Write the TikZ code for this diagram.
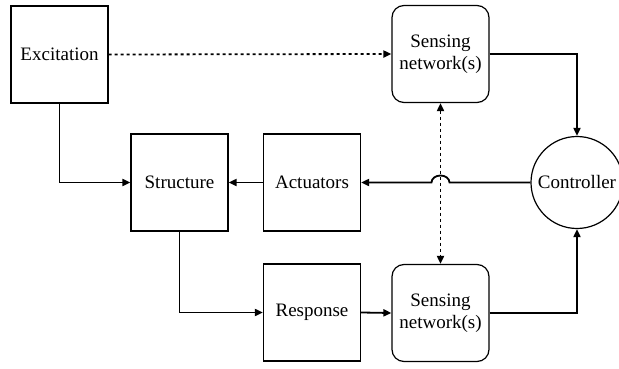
\documentclass[tikz,border=0pt]{standalone}
\usepackage{fontspec}
\setmainfont{Liberation Serif}
\usetikzlibrary{arrows.meta,calc}

\begin{document}
\begin{tikzpicture}[x=1pt,y=-1pt,
    line width=1.8pt,
    font=\fontsize{19}{22}\selectfont,
    >={Triangle[length=8pt,width=7pt]},
    block/.style={draw,line width=1.2pt,minimum width=97pt,minimum height=97pt,align=center},
    sensebox/.style={block,rounded corners=12pt},
    ctrlcircle/.style={draw,line width=1.2pt,circle,minimum size=92pt,inner sep=0pt},
    dots/.style={dash pattern=on 3pt off 3pt}]
    \useasboundingbox (0,0) rectangle (619,369);

    % Draw Blocks
    \node[block] (exc) at (59.5,54.5) {Excitation};
    \node[sensebox] (sensTop) at (440.5,54) {Sensing\\network(s)};
    \node[block] (struct) at (179.5,182.5) {Structure};
    \node[block] (act) at (312,182.5) {Actuators};
    \node[ctrlcircle] (ctrl) at (577,182.5) {Controller};
    \node[block] (resp) at (312,312.5) {Response};
    \node[sensebox] (sensBot) at (440.5,313) {Sensing\\network(s)};

    % Dotted Links
    \draw[->,dots] (exc.east) -- (sensTop.west);
    \draw[<->,dots] (sensTop.south) -- (sensBot.north);

    % Signal Path
    \draw[->] (exc.south) |- (struct.west);
    \draw[->] (act.west) -- (struct.east);
    \draw[->] (struct.south) |- (resp.west);
    \draw[->] (resp.east) -- (sensBot.west);
    \draw[->] (sensTop.east) -| (ctrl.north);
    \draw[->] (sensBot.east) -| (ctrl.south);

    % -- controller to actuators, jumping the dotted line
    \coordinate (jump) at (sensTop.south |- ctrl.west);
    \draw[->] (ctrl.west) -- ($(jump)+(9,0)$)
        arc[start angle=0,end angle=180,x radius=9pt,y radius=7pt]
        -- (act.east);
\end{tikzpicture}
\end{document}
